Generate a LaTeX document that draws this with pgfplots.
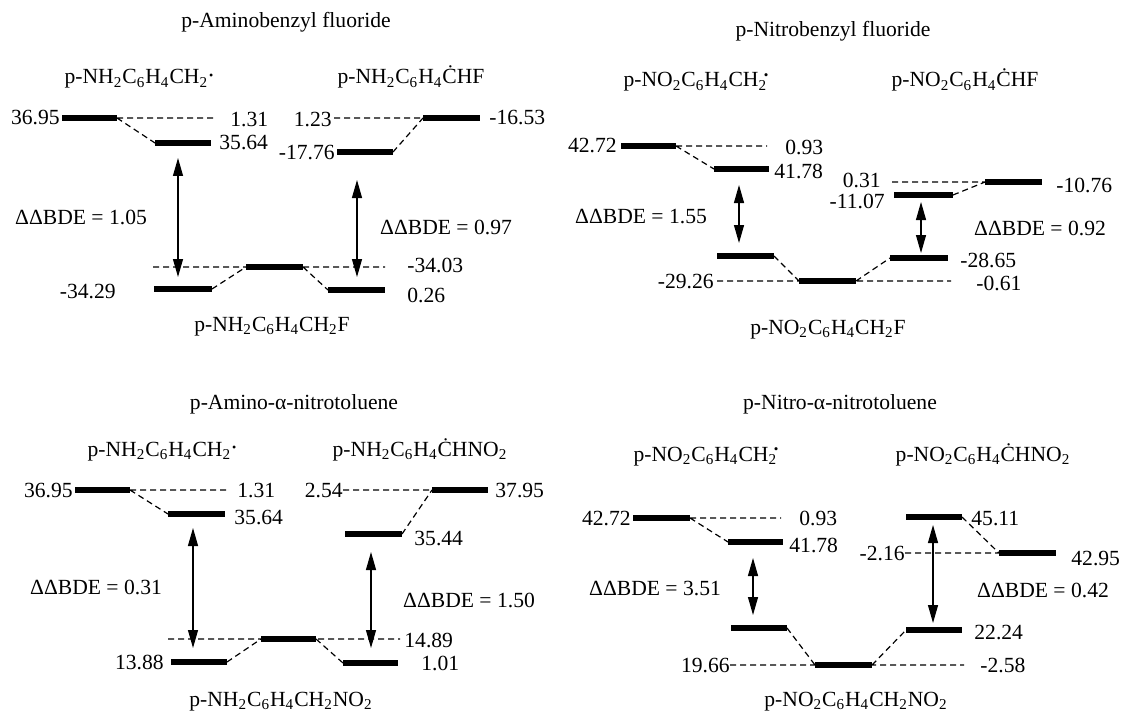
\documentclass[border=0pt]{standalone}
\usepackage{pgfplots}
\pgfplotsset{compat=1.18}
\usepackage{fontspec}
\setmainfont{Liberation Serif}
\usetikzlibrary{arrows.meta}
\newcommand\sub[1]{\textsubscript{#1}}
\newcommand\rad{\kern0.05em\raisebox{0.45ex}{\fontsize{6}{6}\selectfont\textbullet}}
\newcommand\radb{\kern-0.15em\raisebox{0.8ex}{\fontsize{6.5}{6.5}\selectfont\textbullet}}
\tikzset{
  level/.style={line width=3pt,black},
  conn/.style={line width=0.6pt,black,dash pattern=on 3pt off 2pt},
  dbl/.style={line width=0.6pt,black,{Triangle[length=9pt,width=5pt]}-{Triangle[length=9pt,width=5pt]}},
  L/.style={anchor=east,inner sep=0pt},
  R/.style={anchor=west,inner sep=0pt},
  C/.style={anchor=center,inner sep=0pt},
  B/.style={anchor=base,inner sep=0pt},
}
\begin{document}
\begin{tikzpicture}[font=\fontsize{10.8}{13}\selectfont]
\begin{axis}[width=561pt,height=355.5pt,scale only axis,hide axis,clip=false,
  xmin=0,xmax=1122,ymin=0,ymax=711,y dir=reverse,unbounded coords=jump]
% ---------------- Panel 1: p-Aminobenzyl fluoride ----------------
\addplot[level] coordinates {(62,118) (117,118) (nan,nan) (155,143) (211,143) (nan,nan)
  (423,118) (480,118) (nan,nan) (337,152) (393,152) (nan,nan)
  (154,289) (212,289) (nan,nan) (246,267) (303,267) (nan,nan) (328,290) (385,290)};
\addplot[conn] coordinates {(117,118) (213,118) (nan,nan) (117,118) (155,143) (nan,nan)
  (334,118) (423,118) (nan,nan) (393,152) (423,118) (nan,nan)
  (153,267) (385,267) (nan,nan) (212,289) (246,267) (nan,nan) (303,267) (328,290)};
\addplot[dbl] coordinates {(178,158) (178,277)};
\addplot[dbl] coordinates {(357,180) (357,277)};
\node[B] at (axis cs:286,28) {p-Aminobenzyl fluoride};
\node[B] at (axis cs:139,84) {p-NH\sub2C\sub6H\sub4CH\sub2\rad};
\node[B] at (axis cs:411,84) {p-NH\sub2C\sub6H\sub4ĊHF};
\node[L] at (axis cs:60,118) {36.95};
\node[R] at (axis cs:230,120) {1.31};
\node[R] at (axis cs:219,143) {35.64};
\node[L] at (axis cs:332,120) {1.23};
\node[R] at (axis cs:489,118) {-16.53};
\node[L] at (axis cs:335,153) {-17.76};
\node[C] at (axis cs:81,217) {ΔΔBDE = 1.05};
\node[C] at (axis cs:446,227) {ΔΔBDE = 0.97};
\node[R] at (axis cs:407,265) {-34.03};
\node[L] at (axis cs:116,292) {-34.29};
\node[R] at (axis cs:407,295) {0.26};
\node[B] at (axis cs:272,331) {p-NH\sub2C\sub6H\sub4CH\sub2F};
% ---------------- Panel 2: p-Nitrobenzyl fluoride ----------------
\addplot[level] coordinates {(621,146) (676,146) (nan,nan) (714,169) (769,169) (nan,nan)
  (985,182) (1042,182) (nan,nan) (894,195) (953,195) (nan,nan)
  (717,256) (774,256) (nan,nan) (890,258) (948,258) (nan,nan) (799,281) (856,281)};
\addplot[conn] coordinates {(676,146) (767,146) (nan,nan) (676,146) (714,169) (nan,nan)
  (892,182) (985,182) (nan,nan) (953,195) (985,182) (nan,nan)
  (717,281) (951,281) (nan,nan) (774,256) (799,281) (nan,nan) (856,281) (890,258)};
\addplot[dbl] coordinates {(739,185) (739,243)};
\addplot[dbl] coordinates {(921,202) (921,253)};
\node[B] at (axis cs:833,37) {p-Nitrobenzyl fluoride};
\node[B] at (axis cs:696,87) {p-NO\sub2C\sub6H\sub4CH\sub2\radb};
\node[B] at (axis cs:965,87) {p-NO\sub2C\sub6H\sub4ĊHF};
\node[L] at (axis cs:617,146) {42.72};
\node[R] at (axis cs:785,147) {0.93};
\node[R] at (axis cs:774,171) {41.78};
\node[L] at (axis cs:881,180) {0.31};
\node[R] at (axis cs:1056,185) {-10.76};
\node[L] at (axis cs:885,201) {-11.07};
\node[C] at (axis cs:641,217) {ΔΔBDE = 1.55};
\node[C] at (axis cs:1040,228) {ΔΔBDE = 0.92};
\node[R] at (axis cs:960,260) {-28.65};
\node[L] at (axis cs:714,281) {-29.26};
\node[R] at (axis cs:976,283) {-0.61};
\node[B] at (axis cs:828,334) {p-NO\sub2C\sub6H\sub4CH\sub2F};
% ---------------- Panel 3: p-Amino-alpha-nitrotoluene ----------------
\addplot[level] coordinates {(75,490) (130,490) (nan,nan) (168,514) (225,514) (nan,nan)
  (432,490) (488,490) (nan,nan) (345,534) (402,534) (nan,nan)
  (261,639) (316,639) (nan,nan) (171,662) (227,662) (nan,nan) (343,663) (398,663)};
\addplot[conn] coordinates {(130,490) (229,490) (nan,nan) (130,490) (168,514) (nan,nan)
  (343,490) (432,490) (nan,nan) (402,534) (432,490) (nan,nan)
  (168,639) (400,639) (nan,nan) (227,662) (261,639) (nan,nan) (316,639) (343,663)};
\addplot[dbl] coordinates {(193,528) (193,648)};
\addplot[dbl] coordinates {(371,552) (371,648)};
\node[B] at (axis cs:294,409) {p-Amino-α-nitrotoluene};
\node[B] at (axis cs:162,456) {p-NH\sub2C\sub6H\sub4CH\sub2\rad};
\node[B] at (axis cs:420,456) {p-NH\sub2C\sub6H\sub4ĊHNO\sub2};
\node[L] at (axis cs:73,490) {36.95};
\node[R] at (axis cs:237,490) {1.31};
\node[R] at (axis cs:234,517) {35.64};
\node[L] at (axis cs:343,490) {2.54};
\node[R] at (axis cs:495,490) {37.95};
\node[R] at (axis cs:414,538) {35.44};
\node[C] at (axis cs:96,587) {ΔΔBDE = 0.31};
\node[C] at (axis cs:469,600) {ΔΔBDE = 1.50};
\node[R] at (axis cs:404,640) {14.89};
\node[L] at (axis cs:164,662) {13.88};
\node[R] at (axis cs:421,663) {1.01};
\node[B] at (axis cs:281,706) {p-NH\sub2C\sub6H\sub4CH\sub2NO\sub2};
% ---------------- Panel 4: p-Nitro-alpha-nitrotoluene ----------------
\addplot[level] coordinates {(633,518) (690,518) (nan,nan) (728,542) (783,542) (nan,nan)
  (906,517) (962,517) (nan,nan) (999,553) (1056,553) (nan,nan)
  (731,628) (787,628) (nan,nan) (906,630) (962,630) (nan,nan) (815,665) (872,665)};
\addplot[conn] coordinates {(690,518) (781,518) (nan,nan) (690,518) (728,542) (nan,nan)
  (962,517) (999,553) (nan,nan) (905,553) (999,553) (nan,nan)
  (730,665) (964,665) (nan,nan) (787,628) (815,665) (nan,nan) (872,665) (906,630)};
\addplot[dbl] coordinates {(753,558) (753,615)};
\addplot[dbl] coordinates {(933,525) (933,623)};
\node[B] at (axis cs:840,409) {p-Nitro-α-nitrotoluene};
\node[B] at (axis cs:706,461) {p-NO\sub2C\sub6H\sub4CH\sub2\radb};
\node[B] at (axis cs:983,461) {p-NO\sub2C\sub6H\sub4ĊHNO\sub2};
\node[L] at (axis cs:631,518) {42.72};
\node[R] at (axis cs:799,518) {0.93};
\node[R] at (axis cs:789,545) {41.78};
\node[R] at (axis cs:971,519) {45.11};
\node[R] at (axis cs:1071,558) {42.95};
\node[L] at (axis cs:905,553) {-2.16};
\node[C] at (axis cs:655,588) {ΔΔBDE = 3.51};
\node[C] at (axis cs:1043,590) {ΔΔBDE = 0.42};
\node[R] at (axis cs:974,632) {22.24};
\node[L] at (axis cs:730,665) {19.66};
\node[R] at (axis cs:980,665) {-2.58};
\node[B] at (axis cs:856,706) {p-NO\sub2C\sub6H\sub4CH\sub2NO\sub2};
\end{axis}
\pgfresetboundingbox
\path (current axis.south west) rectangle (current axis.north east);
\end{tikzpicture}
\end{document}
